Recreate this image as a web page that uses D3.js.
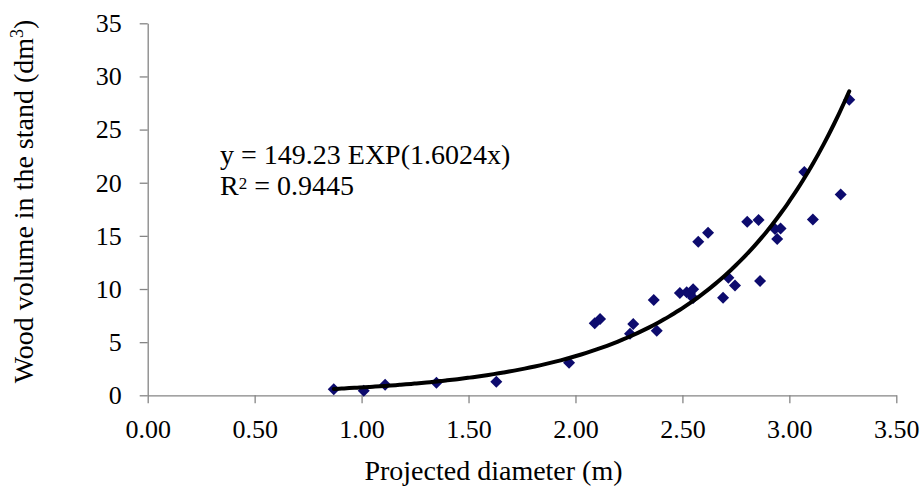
<!DOCTYPE html>
<html>
<head>
<meta charset="utf-8">
<script src="https://cdn.jsdelivr.net/npm/d3@7"></script>
<style>
  body { margin: 0; background: #fff; }
  svg { display: block; }
</style>
</head>
<body>
<div id="chart"></div>
<script>
// measured stand data: projected diameter (m) vs wood volume (dm3)
const diameter = [0.87, 1.01, 1.11, 1.35, 1.63, 1.97, 2.09, 2.115, 2.255, 2.27,
  2.38, 2.366, 2.488, 2.52, 2.535, 2.55, 2.55, 2.574, 2.62, 2.69,
  2.715, 2.746, 2.803, 2.856, 2.863, 2.933, 2.959, 2.943, 3.07, 3.11,
  3.24, 3.28];
const volume = [0.56, 0.43, 1.0, 1.19, 1.27, 3.07, 6.77, 7.18, 5.78, 6.70,
  6.07, 8.97, 9.62, 9.7, 9.55, 9.97, 9.15, 14.45, 15.3, 9.18,
  11.05, 10.33, 16.33, 16.5, 10.75, 15.65, 15.7, 14.7, 21.0, 16.55,
  18.9, 27.8];

// exponential trendline coefficients (y = a * exp(b x))
const trendA = 0.14923;
const trendB = 1.6024;

const xTicks = [0, 0.5, 1, 1.5, 2, 2.5, 3, 3.5];
const yTicks = [0, 5, 10, 15, 20, 25, 30, 35];

const width = 921;
const height = 486;
const font = '"Liberation Serif", "Times New Roman", serif';

const data = diameter.map((d, i) => ({ x: d, y: volume[i] }));

const svg = d3.select('#chart')
  .append('svg')
  .attr('width', width)
  .attr('height', height)
  .style('background', '#fff');

const x = d3.scaleLinear().domain([0, 3.5]).range([147.7, 896.3]);
const y = d3.scaleLinear().domain([0, 35]).range([395.3, 23.3]);

const xAxis = svg.append('g')
  .attr('transform', `translate(0,${y(0)})`)
  .call(d3.axisBottom(x)
    .tickValues(xTicks)
    .tickFormat(d3.format('.2f'))
    .tickSize(8)
    .tickSizeOuter(0)
    .tickPadding(16));

const yAxis = svg.append('g')
  .attr('transform', `translate(${x(0)},0)`)
  .call(d3.axisLeft(y)
    .tickValues(yTicks)
    .tickSize(8)
    .tickSizeOuter(0)
    .tickPadding(18));

[xAxis, yAxis].forEach((g) => {
  g.selectAll('path, line').attr('stroke', '#858585').attr('stroke-width', 1.3);
  g.selectAll('text')
    .attr('fill', '#000')
    .style('font-family', font)
    .style('font-size', '26px');
});

// trendline over the range of the data
const [xMin, xMax] = d3.extent(diameter);
const trend = d3.range(0, 101).map((i) => {
  const xv = xMin + (xMax - xMin) * i / 100;
  return { x: xv, y: trendA * Math.exp(trendB * xv) };
});

// points
svg.append('g')
  .selectAll('path')
  .data(data)
  .join('path')
  .attr('d', d3.symbol(d3.symbolSquare, 72))
  .attr('transform', (d) => `translate(${x(d.x)},${y(d.y)}) rotate(45)`)
  .attr('fill', '#0d0b6e');

svg.append('path')
  .datum(trend)
  .attr('fill', 'none')
  .attr('stroke', '#000')
  .attr('stroke-width', 4)
  .attr('stroke-linecap', 'round')
  .attr('d', d3.line().x((d) => x(d.x)).y((d) => y(d.y)).curve(d3.curveMonotoneX));

// equation label
const eq = svg.append('g')
  .style('font-family', font)
  .style('font-size', '28px')
  .attr('fill', '#000');

eq.append('text')
  .attr('x', 220)
  .attr('y', 164)
  .text('y = 149.23 EXP(1.6024x)');

const r2 = eq.append('text')
  .attr('x', 220)
  .attr('y', 195);
r2.append('tspan').text('R');
r2.append('tspan').attr('dy', -6).style('font-size', '17px').text('2');
r2.append('tspan').attr('dy', 6).text(' = 0.9445');

// axis titles
svg.append('text')
  .attr('x', 493.5)
  .attr('y', 480)
  .attr('text-anchor', 'middle')
  .style('font-family', font)
  .style('font-size', '28px')
  .text('Projected diameter (m)');

const yTitle = svg.append('text')
  .attr('transform', 'translate(33,201.5) rotate(-90)')
  .attr('text-anchor', 'middle')
  .style('font-family', font)
  .style('font-size', '28px');
yTitle.append('tspan').text('Wood volume in the stand (dm');
yTitle.append('tspan').attr('dy', -10).style('font-size', '18px').text('3');
yTitle.append('tspan').attr('dy', 10).text(')');
</script>
</body>
</html>
